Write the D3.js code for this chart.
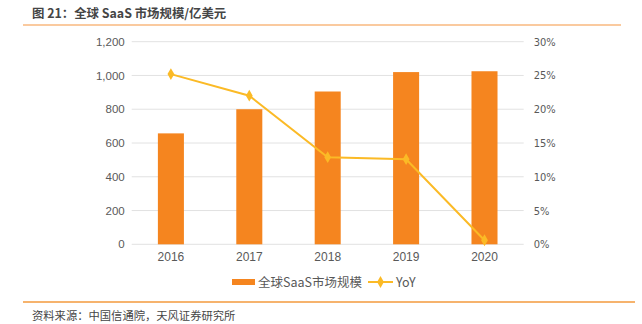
<!DOCTYPE html>
<html><head><meta charset="utf-8">
<script src="https://cdn.jsdelivr.net/npm/d3@7"></script>
<style>
body{margin:0;background:#fff;}
svg{display:block;font-family:"Noto Sans CJK SC","Noto Sans",sans-serif;}
</style></head>
<body><svg id="c" width="642" height="324"></svg>
<script>
const categories = ["2016","2017","2018","2019","2020"];
const marketSize = [657, 800, 905, 1020, 1025];
const yoy = [0.252, 0.220, 0.129, 0.126, 0.006];
const leftTicks = [0,200,400,600,800,1000,1200];
const rightTicks = [0,0.05,0.10,0.15,0.20,0.25,0.30];

const svg = d3.select("#c");
const plot = {l:131.7, r:523.7, t:41.7, b:244.3};

const x = d3.scaleBand().domain(categories).range([plot.l, plot.r]).paddingInner(0.668).paddingOuter(0.334);
const y = d3.scaleLinear().domain([0,1200]).range([plot.b, plot.t]);
const y2 = d3.scaleLinear().domain([0,0.30]).range([plot.b, plot.t]);

// title
svg.append("text").attr("x",32).attr("y",17.5).attr("font-size",12.4).attr("font-weight","bold")
  .attr("fill","#454545").text("图 21：全球 SaaS 市场规模/亿美元");
svg.append("line").attr("x1",23).attr("x2",621).attr("y1",25).attr("y2",25)
  .attr("stroke","#F8B97F").attr("stroke-width",1.3);

// gridlines
svg.append("g").selectAll("line").data(leftTicks).join("line")
  .attr("x1",plot.l).attr("x2",plot.r).attr("y1",d=>y(d)).attr("y2",d=>y(d))
  .attr("stroke","#e2e2e2").attr("stroke-width",1);

// left axis
const la = svg.append("g").attr("transform",`translate(${plot.l-7},0)`)
  .call(d3.axisLeft(y).tickValues(leftTicks).tickSize(0).tickPadding(0).tickFormat(d3.format(",")));
la.select(".domain").remove();
la.selectAll("text").attr("font-size",11.5).attr("fill","#595959").attr("font-family","Liberation Sans, Arial, sans-serif");

// right axis
const ra = svg.append("g").attr("transform",`translate(${plot.r+10},0)`)
  .call(d3.axisRight(y2).tickValues(rightTicks).tickSize(0).tickPadding(0).tickFormat(d3.format(".0%")));
ra.select(".domain").remove();
ra.selectAll("text").attr("font-size",11).attr("fill","#595959").attr("font-family","DejaVu Sans Condensed, DejaVu Sans, sans-serif");

// x axis
const xa = svg.append("g").attr("transform",`translate(0,${plot.b})`)
  .call(d3.axisBottom(x).tickSize(0).tickPadding(8));
xa.select(".domain").remove();
xa.selectAll("text").attr("font-size",12).attr("fill","#595959").attr("font-family","Liberation Sans, Arial, sans-serif");

// bars
svg.append("g").selectAll("rect").data(marketSize).join("rect")
  .attr("x",(d,i)=>x(categories[i])).attr("width",x.bandwidth())
  .attr("y",d=>y(d)).attr("height",d=>plot.b-y(d))
  .attr("fill","#F5851F");

// line
const lineGen = d3.line().x((d,i)=>x(categories[i])+x.bandwidth()/2).y(d=>y2(d));
svg.append("path").datum(yoy).attr("d",lineGen).attr("fill","none")
  .attr("stroke","#FBBA26").attr("stroke-width",2);
svg.append("g").selectAll("path").data(yoy).join("path")
  .attr("d",d3.symbol(d3.symbolDiamond,40))
  .attr("transform",(d,i)=>`translate(${x(categories[i])+x.bandwidth()/2},${y2(d)})`)
  .attr("fill","#FBBA26");

// legend
const lg = svg.append("g");
lg.append("rect").attr("x",232).attr("y",279).attr("width",23).attr("height",6).attr("fill","#F5851F");
lg.append("text").attr("x",258).attr("y",286.5).attr("font-size",12.5).attr("fill","#595959").text("全球SaaS市场规模");
lg.append("line").attr("x1",368).attr("x2",393).attr("y1",282).attr("y2",282).attr("stroke","#FBBA26").attr("stroke-width",2);
lg.append("path").attr("d",d3.symbol(d3.symbolDiamond,40)).attr("transform","translate(380.5,282)").attr("fill","#FBBA26");
lg.append("text").attr("x",396).attr("y",286.5).attr("font-size",12.5).attr("fill","#595959").text("YoY");

// bottom
svg.append("line").attr("x1",23).attr("x2",635).attr("y1",302).attr("y2",302)
  .attr("stroke","#F39A3C").attr("stroke-width",1.3);
svg.append("text").attr("x",32).attr("y",320).attr("font-size",11.3).attr("fill","#454545").text("资料来源：中国信通院，天风证券研究所");
</script></body></html>
